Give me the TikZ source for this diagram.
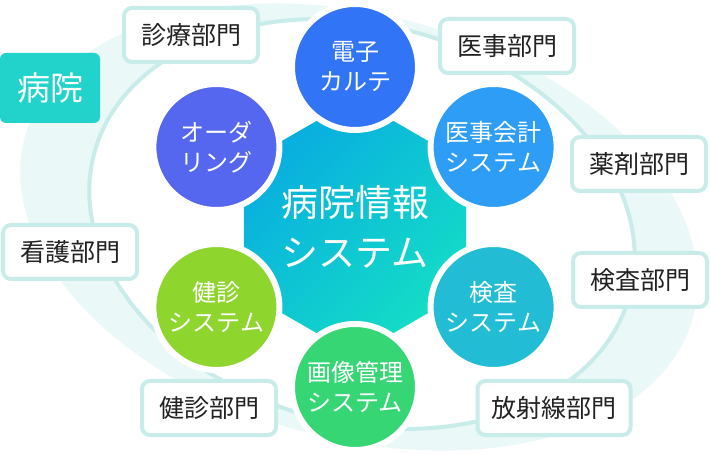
\documentclass[tikz,border=0pt]{standalone}
\usepackage{fontspec}
\setmainfont{Noto Sans CJK JP}
\usetikzlibrary{shapes.geometric}

\definecolor{ringpale}{HTML}{EAF8F8}
\definecolor{ringline}{HTML}{C8ECEA}
\definecolor{textdark}{HTML}{222222}
\definecolor{hospteal}{HTML}{22D3CB}
\definecolor{hisblue}{HTML}{08AEE0}
\definecolor{histeal}{HTML}{14DCC6}
\definecolor{emrblue}{HTML}{3174F6}
\definecolor{ordblue}{HTML}{5567EF}
\definecolor{ijiblue}{HTML}{2D9DF6}
\definecolor{kencyan}{HTML}{22BDD5}
\definecolor{imggreen}{HTML}{36D675}
\definecolor{kenlime}{HTML}{8ED52D}

\begin{document}
\begin{tikzpicture}[x=1pt, y=-1pt,
    dept/.style={rectangle, draw=ringline, line width=4pt, fill=white, rounded corners=8pt, minimum width=134pt, minimum height=54pt, inner xsep=14pt, text=textdark, font=\fontsize{25}{30}\selectfont},
    sat/.style={circle, fill=#1, draw=white, line width=6pt, minimum size=126pt, inner sep=0pt, text=white, align=center, font=\fontsize{24}{30}\selectfont}
]
    \useasboundingbox (0,0) rectangle (710,454);
    \fill[white] (0,0) rectangle (710,454);

    % Anneau
    \fill[ringpale, rotate around={-15:(359,227)}] (359,227) ellipse [x radius=346, y radius=212];
    \draw[ringline, line width=4pt, fill=white, rotate around={-14.6:(362,224)}] (362,224) ellipse [x radius=277, y radius=199];

    % Départements
    \node[dept] (shinryo) at (191,35) {診療部門};
    \node[dept] (iji) at (507,46) {医事部門};
    \node[dept] (yakuzai) at (639,164) {薬剤部門};
    \node[dept] (kensa) at (640,280) {検査部門};
    \node[dept] (hoshasen) at (554,408) {放射線部門};
    \node[dept] (kenshin) at (209,408) {健診部門};
    \node[dept] (kango) at (70,252) {看護部門};

    \node[fill=hospteal, rounded corners=6pt, minimum width=100pt, minimum height=70pt, text=white, font=\fontsize{33}{40}\selectfont] (byoin) at (50,88) {病院};

    % Système central
    \node[regular polygon, regular polygon sides=12, minimum size=230pt, inner sep=0pt, top color=hisblue, bottom color=histeal, shading angle=45, text=white, align=center, font=\fontsize{37}{50}\selectfont] (his) at (355,227) {病院情報\\システム};

    % Sous-systèmes
    \foreach \x/\y/\col/\txt/\nom in {355/67/emrblue/{電子\\カルテ}/emr, 493.6/147/ijiblue/{医事会計\\システム}/ijikaikei, 493.6/307/kencyan/{検査\\システム}/kensasys, 355/387/imggreen/{画像管理\\システム}/gazo, 216.4/307/kenlime/{健診\\システム}/kenshinsys, 216.4/147/ordblue/{オーダ\\リング}/order} {
        \node[sat=\col] (\nom) at (\x,\y) {\txt};
    }
\end{tikzpicture}
\end{document}
